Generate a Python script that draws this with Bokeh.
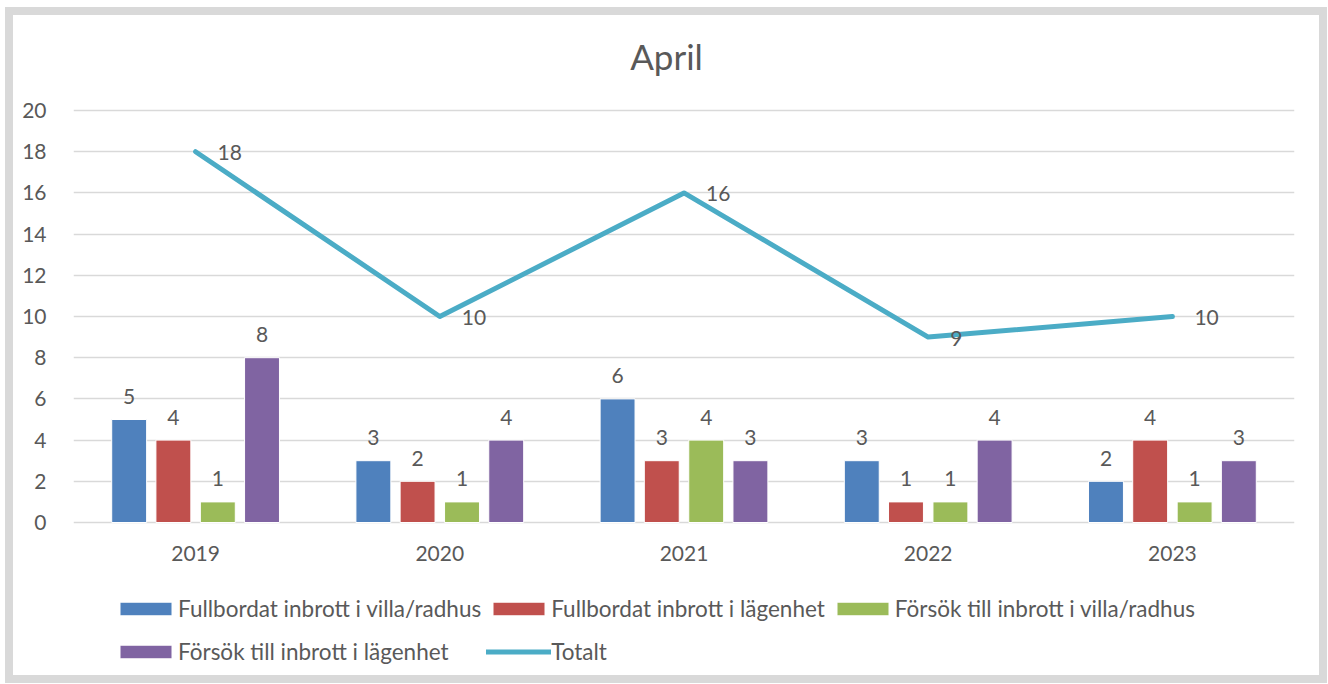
from bokeh.plotting import figure
from bokeh.models import (ColumnDataSource, LabelSet, Label, Legend, LegendItem,
                          FixedTicker, Range1d)
from bokeh.core.properties import value
from bokeh.embed import file_html
from bokeh.resources import INLINE

years = ["2019", "2020", "2021", "2022", "2023"]
villa_full = [5, 3, 6, 3, 2]
lgh_full = [4, 2, 3, 1, 4]
villa_forsok = [1, 1, 4, 1, 1]
lgh_forsok = [8, 4, 3, 4, 3]
totalt = [18, 10, 16, 9, 10]
series_names = ["Fullbordat inbrott i villa/radhus", "Fullbordat inbrott i lägenhet",
                "Försök till inbrott i villa/radhus", "Försök till inbrott i lägenhet"]
total_name = "Totalt"
y_ticks = [0, 2, 4, 6, 8, 10, 12, 14, 16, 18, 20]
title_text = "April"

colors = ["#4f81bd", "#c0504d", "#9bbb59", "#8064a2"]
line_color = "#4bacc6"
text_color = "#595959"
grid_color = "#d9d9d9"
FONT = "Lato"
FS = "21px"

# layout (page pixels); canvas starts at page (13, 15)
W, H, B = 1322, 676, 8
FRAME_L, FRAME_R = 60, 41
PX_PER_UNIT = 20.6
ZERO_FROM_BOTTOM = 169
TOP_ABOVE_20 = 95
y_lo = -ZERO_FROM_BOTTOM / PX_PER_UNIT
y_hi = 20 + TOP_ABOVE_20 / PX_PER_UNIT
frame_w = W - FRAME_L - FRAME_R
px_per_cat = frame_w / len(years)

p = figure(width=W, height=H, output_backend="svg", toolbar_location=None,
           x_range=Range1d(0, len(years)), y_range=Range1d(y_lo, y_hi),
           min_border_left=FRAME_L, min_border_right=FRAME_R, min_border_top=0,
           min_border_bottom=0, background_fill_color="white", border_fill_color="white")
p.styles = {"border": f"{B}px solid #d9d9d9", "margin-left": "5px", "margin-top": "7px"}
p.outline_line_color = None

centers = [i + 0.5 for i in range(len(years))]
offsets = [-0.272, -0.091, 0.091, 0.272]
bw = 0.143
all_series = [villa_full, lgh_full, villa_forsok, lgh_forsok]
renderers = []
for s, off, c in zip(all_series, offsets, colors):
    xs = [cx + off for cx in centers]
    src = ColumnDataSource(dict(x=xs, top=s, lab=[str(v) for v in s]))
    r = p.vbar(x="x", top="top", width=bw, bottom=0, source=src, fill_color=c,
               line_color="white", line_width=1)
    renderers.append(r)
    p.add_layout(LabelSet(x="x", y="top", text="lab", source=src, text_align="center",
                          text_baseline="middle", y_offset=23, text_color=text_color,
                          text_font=value(FONT), text_font_size=FS))

tsrc = ColumnDataSource(dict(x=centers, y=totalt, lab=[str(v) for v in totalt]))
lr = p.line(x="x", y="y", source=tsrc, line_color=line_color, line_width=5,
            line_cap="round", line_join="round")
p.add_layout(LabelSet(x="x", y="y", text="lab", source=tsrc, text_align="left",
                      text_baseline="middle", x_offset=22, y_offset=-1, text_color=text_color,
                      text_font=value(FONT), text_font_size=FS))

# year labels under the zero line
ysrc = ColumnDataSource(dict(x=centers, y=[0] * len(years), lab=years))
p.add_layout(LabelSet(x="x", y="y", text="lab", source=ysrc, text_align="center",
                      text_baseline="middle", y_offset=-31, text_color=text_color,
                      text_font=value(FONT), text_font_size=FS))

# title centred on the whole chart rather than the plot area
p.add_layout(Label(x=len(years) / 2 - 17.5 / px_per_cat, y=20 + 55 / PX_PER_UNIT,
                   text=title_text, text_align="center", text_baseline="middle",
                   text_color=text_color, text_font=FONT, text_font_size="35px"))

p.xaxis.visible = False
p.yaxis.ticker = FixedTicker(ticks=y_ticks)
ax = p.yaxis[0]
ax.axis_line_color = None
ax.major_tick_line_color = None
ax.minor_tick_line_color = None
ax.major_label_text_color = text_color
ax.major_label_text_font = FONT
ax.major_label_text_font_size = FS
p.yaxis.major_label_standoff = 21
p.xgrid.grid_line_color = None
p.ygrid.ticker = FixedTicker(ticks=y_ticks)
p.ygrid.grid_line_color = grid_color
p.ygrid.grid_line_width = 1.5

items = [LegendItem(label=n, renderers=[r]) for n, r in zip(series_names, renderers)]
items.append(LegendItem(label=total_name, renderers=[lr]))
legend = Legend(items=items, ncols=3, orientation="horizontal", location=(40, 21),
                padding=0, margin=0, spacing=5, glyph_width=65, glyph_height=17,
                label_standoff=0, label_height=38, label_text_color=text_color,
                label_text_font=FONT, label_text_font_size="22.5px",
                border_line_color=None, background_fill_alpha=0)
p.add_layout(legend, "center")

open("out.html", "w").write(file_html(p, INLINE))
